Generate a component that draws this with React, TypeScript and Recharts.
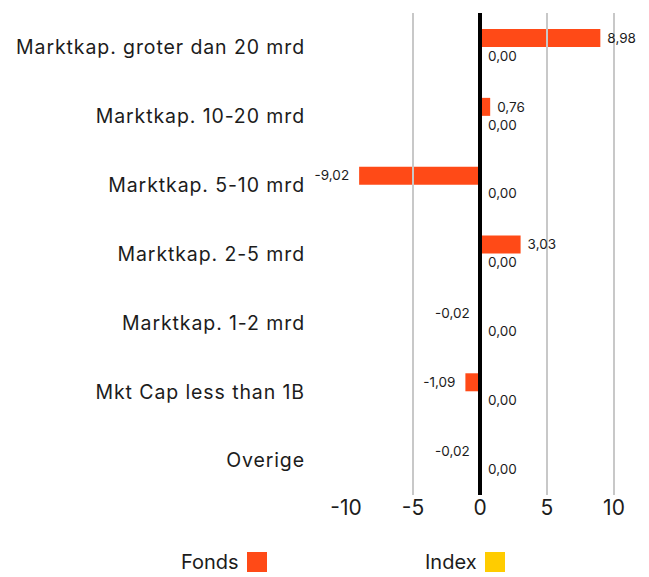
import { BarChart, Bar, XAxis, YAxis, Legend, ReferenceLine, LabelList } from "recharts";

const categories = [
  "Marktkap. groter dan 20 mrd",
  "Marktkap. 10-20 mrd",
  "Marktkap. 5-10 mrd",
  "Marktkap. 2-5 mrd",
  "Marktkap. 1-2 mrd",
  "Mkt Cap less than 1B",
  "Overige",
];
const fondsValues = [8.98, 0.76, -9.02, 3.03, -0.02, -1.09, -0.02];
const indexValues = [0, 0, 0, 0, 0, 0, 0];
const xTicks = [-10, -5, 0, 5, 10];
const gridValues = [-5, 5, 10];

const FONDS_COLOR = "#ff4a17";
const INDEX_COLOR = "#ffcc00";
const TEXT_COLOR = "#1c1c1c";
const FONT = "Inter, 'Open Sans', sans-serif";

const data = categories.map((name, i) => ({ name, fonds: fondsValues[i], index: indexValues[i] }));

const fmt = (v: number) => v.toFixed(2).replace(".", ",");

function ValueLabel(props: any) {
  const { x, y, width, height, value } = props;
  const left = Math.min(x, x + width);
  const right = Math.max(x, x + width);
  const cy = y + height / 2;
  const neg = value < 0;
  return (
    <text
      x={neg ? left - 10 : right + 7}
      y={cy}
      dy="0.35em"
      textAnchor={neg ? "end" : "start"}
      fontSize={13.5}
      fontFamily={FONT}
      fill={TEXT_COLOR}
    >
      {fmt(Number(value))}
    </text>
  );
}

function LegendContent() {
  const items = [
    { label: "Fonds", color: FONDS_COLOR, width: 244 },
    { label: "Index", color: INDEX_COLOR, width: 100 },
  ];
  return (
    <div style={{ display: "flex", paddingLeft: 181, fontFamily: FONT, fontSize: 20, color: TEXT_COLOR }}>
      {items.map((it) => (
        <div key={it.label} style={{ display: "flex", alignItems: "center", width: it.width, height: 24 }}>
          <span>{it.label}</span>
          <span style={{ display: "inline-block", width: 20, height: 20, background: it.color, marginLeft: 8 }} />
        </div>
      ))}
    </div>
  );
}

export default function App() {
  return (
    <div style={{ position: "absolute", left: 0, top: 0, background: "#fff" }}>
      <BarChart
        width={649}
        height={577}
        data={data}
        layout="vertical"
        margin={{ top: 13, right: 35, bottom: 52, left: 0 }}
        barGap={0}
        barSize={18}
      >
        <XAxis
          type="number"
          domain={[-10, 10]}
          ticks={xTicks}
          axisLine={false}
          tickLine={false}
          tickSize={0}
          tickMargin={5}
          height={30}
          tick={{ fontSize: 21, fill: TEXT_COLOR, fontFamily: FONT }}
        />
        <YAxis
          type="category"
          dataKey="name"
          width={346}
          axisLine={false}
          tickLine={false}
          tickMargin={35}
          tick={{ fontSize: 19.5, fill: TEXT_COLOR, fontFamily: FONT, letterSpacing: 0.9 }}
        />
        {gridValues.map((g) => (
          <ReferenceLine key={g} x={g} stroke="#c8c8c8" strokeWidth={2} />
        ))}
        <Legend
          verticalAlign="middle"
          align="center"
          layout="horizontal"
          wrapperStyle={{ top: 550, left: 0, width: 649 }}
          content={<LegendContent />}
        />
        <Bar dataKey="fonds" name="Fonds" fill={FONDS_COLOR} isAnimationActive={false}>
          <LabelList dataKey="fonds" content={<ValueLabel />} />
        </Bar>
        <Bar dataKey="index" name="Index" fill={INDEX_COLOR} minPointSize={1} isAnimationActive={false}>
          <LabelList dataKey="index" content={<ValueLabel />} />
        </Bar>
        <ReferenceLine x={0} stroke="#000" strokeWidth={4} />
      </BarChart>
    </div>
  );
}
